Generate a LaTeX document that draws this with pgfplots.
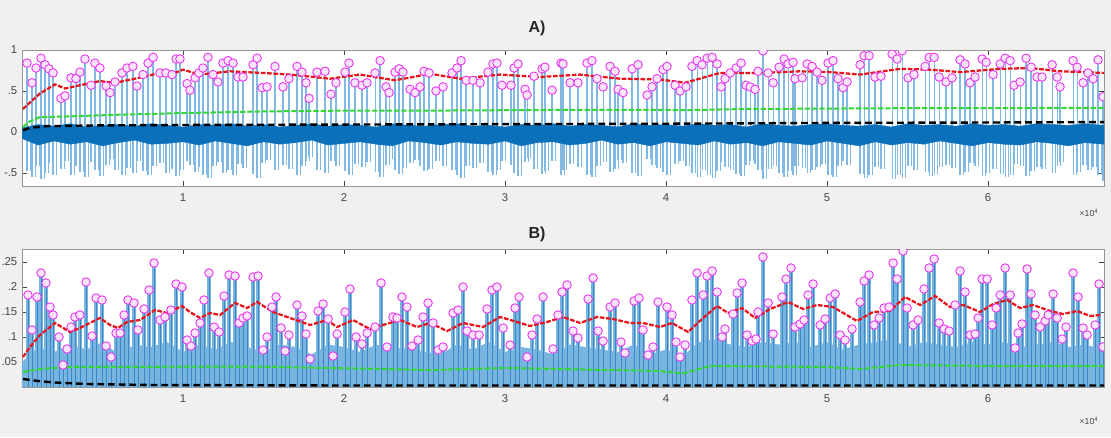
\documentclass[border=0pt]{standalone}
\usepackage{fontspec}
\setmainfont{Liberation Sans}
\usepackage{pgfplots}
\usepackage{pgfplotstable}
\pgfplotsset{compat=1.18}

\definecolor{figbg}{RGB}{240,240,240}
\definecolor{frame}{RGB}{150,150,150}
\definecolor{ticktext}{RGB}{70,70,70}
\definecolor{sigdark}{RGB}{10,112,186}
\definecolor{siglight}{RGB}{130,185,226}
\definecolor{stemfill}{RGB}{120,180,224}
\definecolor{stemedge}{RGB}{60,135,198}
\definecolor{peakmag}{RGB}{232,50,238}
\definecolor{peakfill}{RGB}{250,228,252}
\definecolor{envred}{RGB}{232,22,28}
\definecolor{envgreen}{RGB}{50,215,50}

% A) peaks of the signal (x in 10^4 samples), positive peak, negative swing
\pgfplotstableread{
x p n
0.031 0.84 -0.48
0.062 0.60 -0.55
0.087 0.78 -0.42
0.118 0.90 -0.57
0.143 0.82 -0.50
0.168 0.77 -0.38
0.193 0.72 -0.53
0.242 0.41 -0.45
0.267 0.44 -0.36
0.304 0.66 -0.52
0.335 0.65 -0.41
0.360 0.73 -0.49
0.391 0.89 -0.55
0.429 0.57 -0.37
0.453 0.84 -0.47
0.484 0.78 -0.54
0.522 0.56 -0.40
0.547 0.48 -0.33
0.578 0.61 -0.46
0.621 0.72 -0.52
0.652 0.78 -0.44
0.689 0.80 -0.50
0.714 0.56 -0.36
0.752 0.70 -0.48
0.783 0.84 -0.53
0.814 0.91 -0.42
0.857 0.72 -0.38
0.894 0.72 -0.50
0.932 0.70 -0.45
0.957 0.89 -0.54
0.981 0.89 -0.47
1.025 0.59 -0.35
1.043 0.51 -0.40
1.075 0.66 -0.49
1.099 0.72 -0.43
1.124 0.78 -0.52
1.155 0.91 -0.56
1.186 0.70 -0.41
1.217 0.61 -0.37
1.248 0.84 -0.50
1.280 0.87 -0.46
1.311 0.84 -0.53
1.342 0.67 -0.39
1.373 0.67 -0.44
1.435 0.82 -0.51
1.460 0.90 -0.56
1.491 0.54 -0.38
1.522 0.55 -0.34
1.571 0.80 -0.47
1.621 0.55 -0.40
1.658 0.65 -0.45
1.708 0.80 -0.52
1.739 0.73 -0.42
1.764 0.60 -0.36
1.783 0.41 -0.31
1.832 0.73 -0.46
1.882 0.74 -0.50
1.919 0.46 -0.35
1.950 0.60 -0.41
2.006 0.73 -0.48
2.031 0.84 -0.53
2.068 0.60 -0.39
2.112 0.57 -0.43
2.143 0.60 -0.37
2.193 0.72 -0.49
2.224 0.87 -0.55
2.261 0.55 -0.40
2.280 0.48 -0.33
2.317 0.73 -0.46
2.342 0.77 -0.51
2.366 0.73 -0.44
2.410 0.52 -0.38
2.441 0.48 -0.34
2.472 0.55 -0.41
2.497 0.74 -0.48
2.528 0.72 -0.45
2.571 0.50 -0.36
2.615 0.55 -0.42
2.671 0.72 -0.47
2.702 0.78 -0.52
2.727 0.87 -0.56
2.758 0.63 -0.41
2.801 0.63 -0.44
2.845 0.60 -0.38
2.894 0.73 -0.49
2.925 0.83 -0.53
2.950 0.84 -0.47
2.981 0.57 -0.36
3.037 0.57 -0.40
3.056 0.78 -0.50
3.081 0.83 -0.54
3.124 0.52 -0.37
3.137 0.45 -0.32
3.180 0.68 -0.45
3.230 0.77 -0.51
3.248 0.79 -0.48
3.292 0.51 -0.35
3.348 0.84 -0.53
3.360 0.83 -0.46
3.404 0.60 -0.39
3.453 0.60 -0.43
3.509 0.84 -0.52
3.540 0.87 -0.55
3.571 0.65 -0.41
3.609 0.55 -0.37
3.652 0.80 -0.49
3.683 0.74 -0.45
3.702 0.52 -0.34
3.733 0.48 -0.38
3.789 0.77 -0.50
3.826 0.82 -0.54
3.882 0.45 -0.33
3.913 0.55 -0.40
3.944 0.65 -0.44
3.981 0.76 -0.49
4.006 0.80 -0.52
4.056 0.57 -0.39
4.087 0.50 -0.35
4.124 0.55 -0.42
4.161 0.80 -0.50
4.193 0.87 -0.55
4.224 0.82 -0.47
4.255 0.90 -0.53
4.286 0.91 -0.56
4.317 0.83 -0.48
4.342 0.55 -0.37
4.366 0.65 -0.43
4.398 0.72 -0.46
4.435 0.78 -0.51
4.466 0.84 -0.54
4.497 0.57 -0.40
4.522 0.55 -0.36
4.553 0.52 -0.39
4.571 0.74 -0.47
4.602 0.99 -0.58
4.634 0.72 -0.45
4.665 0.60 -0.41
4.702 0.79 -0.50
4.733 0.89 -0.55
4.758 0.83 -0.48
4.789 0.85 -0.52
4.801 0.65 -0.42
4.845 0.66 -0.44
4.876 0.83 -0.50
4.907 0.80 -0.47
4.938 0.73 -0.43
4.969 0.63 -0.39
5.006 0.84 -0.52
5.037 0.87 -0.55
5.068 0.65 -0.42
5.099 0.54 -0.36
5.124 0.61 -0.40
5.205 0.82 -0.51
5.230 0.93 -0.56
5.261 0.93 -0.53
5.298 0.67 -0.43
5.335 0.68 -0.45
5.404 0.95 -0.57
5.435 0.89 -0.52
5.466 0.99 -0.56
5.503 0.66 -0.42
5.540 0.70 -0.46
5.609 0.80 -0.49
5.634 0.91 -0.54
5.665 0.91 -0.51
5.696 0.67 -0.43
5.739 0.61 -0.40
5.776 0.66 -0.44
5.826 0.88 -0.53
5.857 0.83 -0.49
5.888 0.60 -0.38
5.919 0.67 -0.42
5.963 0.89 -0.54
5.988 0.85 -0.50
6.031 0.70 -0.45
6.075 0.83 -0.51
6.106 0.90 -0.55
6.137 0.87 -0.52
6.161 0.57 -0.39
6.199 0.61 -0.41
6.236 0.90 -0.54
6.267 0.79 -0.48
6.304 0.67 -0.43
6.335 0.67 -0.45
6.398 0.82 -0.50
6.429 0.67 -0.42
6.447 0.55 -0.37
6.528 0.87 -0.53
6.553 0.79 -0.49
6.590 0.60 -0.40
6.621 0.72 -0.46
6.652 0.65 -0.43
6.683 0.88 -0.52
6.714 0.43 -0.60
}\peaksA

% B) peaks of the envelope
\pgfplotstableread{
x p
0.037 0.184
0.062 0.114
0.093 0.180
0.118 0.228
0.149 0.208
0.174 0.160
0.193 0.144
0.230 0.100
0.255 0.044
0.280 0.076
0.304 0.120
0.329 0.140
0.360 0.144
0.398 0.210
0.435 0.102
0.460 0.178
0.497 0.174
0.522 0.082
0.553 0.060
0.584 0.108
0.609 0.108
0.634 0.144
0.658 0.174
0.696 0.168
0.720 0.114
0.758 0.156
0.789 0.194
0.820 0.248
0.857 0.134
0.888 0.140
0.925 0.154
0.957 0.206
0.994 0.200
1.025 0.094
1.050 0.082
1.075 0.108
1.106 0.128
1.130 0.174
1.161 0.228
1.193 0.120
1.224 0.110
1.255 0.182
1.286 0.224
1.323 0.222
1.348 0.128
1.373 0.138
1.398 0.142
1.435 0.220
1.466 0.222
1.497 0.074
1.522 0.100
1.553 0.160
1.578 0.180
1.609 0.118
1.634 0.072
1.658 0.104
1.708 0.164
1.739 0.142
1.764 0.106
1.789 0.056
1.839 0.152
1.870 0.166
1.901 0.136
1.932 0.062
1.957 0.106
2.006 0.150
2.037 0.196
2.075 0.100
2.112 0.086
2.143 0.108
2.193 0.120
2.230 0.208
2.267 0.080
2.304 0.140
2.329 0.138
2.360 0.180
2.391 0.160
2.422 0.082
2.460 0.094
2.491 0.140
2.522 0.168
2.553 0.128
2.584 0.074
2.615 0.080
2.677 0.148
2.708 0.154
2.739 0.200
2.764 0.112
2.801 0.104
2.839 0.104
2.888 0.156
2.919 0.194
2.950 0.200
2.988 0.118
3.031 0.084
3.062 0.158
3.087 0.180
3.137 0.060
3.168 0.104
3.199 0.136
3.236 0.180
3.298 0.076
3.329 0.144
3.354 0.190
3.385 0.204
3.422 0.112
3.453 0.098
3.516 0.176
3.547 0.218
3.578 0.112
3.609 0.092
3.652 0.160
3.683 0.168
3.720 0.090
3.745 0.068
3.801 0.172
3.832 0.178
3.857 0.114
3.888 0.064
3.919 0.080
3.950 0.170
4.006 0.160
4.037 0.144
4.062 0.090
4.087 0.060
4.118 0.084
4.161 0.174
4.193 0.228
4.230 0.184
4.255 0.222
4.286 0.232
4.317 0.190
4.348 0.100
4.366 0.116
4.416 0.146
4.441 0.188
4.472 0.208
4.503 0.104
4.534 0.092
4.559 0.096
4.571 0.150
4.602 0.260
4.634 0.168
4.665 0.106
4.720 0.180
4.745 0.216
4.776 0.238
4.801 0.120
4.832 0.126
4.857 0.134
4.882 0.184
4.913 0.206
4.957 0.124
4.988 0.136
5.019 0.178
5.050 0.186
5.081 0.104
5.112 0.094
5.155 0.116
5.205 0.170
5.230 0.212
5.261 0.224
5.292 0.124
5.323 0.138
5.354 0.158
5.385 0.160
5.410 0.248
5.435 0.216
5.472 0.272
5.497 0.158
5.534 0.124
5.565 0.134
5.602 0.196
5.634 0.238
5.665 0.256
5.696 0.128
5.727 0.116
5.758 0.112
5.795 0.164
5.826 0.232
5.857 0.190
5.888 0.104
5.919 0.106
5.938 0.138
5.963 0.216
5.994 0.216
6.025 0.124
6.050 0.158
6.075 0.184
6.106 0.238
6.137 0.184
6.168 0.078
6.186 0.108
6.211 0.126
6.242 0.236
6.267 0.186
6.292 0.144
6.323 0.120
6.354 0.132
6.373 0.144
6.404 0.186
6.429 0.138
6.460 0.096
6.484 0.120
6.528 0.228
6.559 0.180
6.590 0.118
6.615 0.104
6.665 0.124
6.689 0.206
6.714 0.080
}\peaksB

\pgfplotsset{
  sigaxis/.style={
    scale only axis, width=811.5pt, xmin=0, xmax=6.72,
    axis background/.style={fill=white},
    axis line style={frame, line width=0.7pt},
    tick style={ticktext, line width=0.5pt},
    major tick length=3.5pt,
    tick align=inside,
    xtick={1,2,3,4,5,6},
    tick label style={font=\fontsize{8.5}{9}\selectfont, text=ticktext},
    xticklabel style={yshift=-2.5pt},
    /pgf/number format/assume math mode=true,
    clip marker paths=true,
  },
  peakmarks/.style={only marks, mark=*, mark size=3.2pt,
    mark options={draw=peakmag, fill=peakfill, line width=0.65pt}},
  redenv/.style={envred, line width=1.7pt, dash pattern=on 3.5pt off 1.2pt},
  greenenv/.style={envgreen, line width=1.5pt, dash pattern=on 4pt off 1.5pt},
  blackenv/.style={black, line width=1.8pt, dash pattern=on 5pt off 3pt},
}

\begin{document}
\begin{tikzpicture}[x=1pt,y=1pt]
\fill[figbg] (0,0) rectangle (833.25,327.75);
\useasboundingbox (0,0) rectangle (833.25,327.75);

% ---------------- A) ----------------
\begin{axis}[sigaxis, at={(16.5pt,188.25pt)}, anchor=south west, height=102pt,
  ymin=-0.66, ymax=1, ytick={-0.5,0,0.5,1}, yticklabels={-.5,0,.5,1}]
\addplot[ycomb, siglight, line width=0.9pt] table[x=x,y=p]{\peaksA};
\addplot[ycomb, siglight, line width=0.9pt] table[x=x,y=n]{\peaksA};
\addplot[ycomb, siglight, line width=0.9pt, xshift=2.6pt] table[x=x,y=n]{\peaksA};
\addplot[fill=sigdark, draw=sigdark, line width=0.3pt] coordinates {
(0,0.05)(0.1,0.09)(0.2,0.07)(0.3,0.10)(0.4,0.06)(0.5,0.08)(0.6,0.09)(0.7,0.07)(0.8,0.10)(0.9,0.08)
(1.0,0.06)(1.1,0.09)(1.2,0.08)(1.3,0.10)(1.4,0.07)(1.5,0.09)(1.6,0.06)(1.7,0.08)(1.8,0.10)(1.9,0.07)
(2.0,0.09)(2.1,0.08)(2.2,0.06)(2.3,0.10)(2.4,0.08)(2.5,0.07)(2.6,0.09)(2.7,0.10)(2.8,0.07)(2.9,0.08)
(3.0,0.06)(3.1,0.09)(3.2,0.08)(3.3,0.10)(3.4,0.07)(3.5,0.09)(3.6,0.08)(3.7,0.06)(3.8,0.10)(3.9,0.08)
(4.0,0.09)(4.1,0.07)(4.2,0.10)(4.3,0.08)(4.4,0.09)(4.5,0.06)(4.6,0.10)(4.7,0.08)(4.8,0.07)(4.9,0.09)
(5.0,0.10)(5.1,0.08)(5.2,0.07)(5.3,0.09)(5.4,0.06)(5.5,0.10)(5.6,0.08)(5.7,0.09)(5.8,0.07)(5.9,0.10)
(6.0,0.08)(6.1,0.09)(6.2,0.07)(6.3,0.10)(6.4,0.09)(6.5,0.08)(6.6,0.10)(6.72,0.08)
(6.72,-0.15)(6.6,-0.13)(6.5,-0.17)(6.4,-0.14)(6.3,-0.12)(6.2,-0.16)(6.1,-0.15)(6.0,-0.13)
(5.9,-0.17)(5.8,-0.14)(5.7,-0.11)(5.6,-0.15)(5.5,-0.13)(5.4,-0.16)(5.3,-0.12)(5.2,-0.17)(5.1,-0.14)(5.0,-0.11)
(4.9,-0.16)(4.8,-0.14)(4.7,-0.12)(4.6,-0.17)(4.5,-0.13)(4.4,-0.15)(4.3,-0.11)(4.2,-0.16)(4.1,-0.14)(4.0,-0.12)
(3.9,-0.17)(3.8,-0.13)(3.7,-0.15)(3.6,-0.10)(3.5,-0.14)(3.4,-0.16)(3.3,-0.12)(3.2,-0.13)(3.1,-0.17)(3.0,-0.11)
(2.9,-0.15)(2.8,-0.14)(2.7,-0.12)(2.6,-0.16)(2.5,-0.13)(2.4,-0.11)(2.3,-0.17)(2.2,-0.15)(2.1,-0.12)(2.0,-0.14)
(1.9,-0.16)(1.8,-0.10)(1.7,-0.13)(1.6,-0.15)(1.5,-0.12)(1.4,-0.17)(1.3,-0.14)(1.2,-0.11)(1.1,-0.16)(1.0,-0.12)
(0.9,-0.14)(0.8,-0.15)(0.7,-0.10)(0.6,-0.13)(0.5,-0.17)(0.4,-0.12)(0.3,-0.15)(0.2,-0.11)(0.1,-0.16)(0,-0.08)
} -- cycle;
\addplot[greenenv] coordinates {(0.006,0.06)(0.05,0.13)(0.11,0.18)(0.3,0.19)(0.6,0.21)(1.0,0.23)(1.5,0.25)
  (2.0,0.26)(2.5,0.26)(3.0,0.265)(3.5,0.27)(4.0,0.27)(4.1,0.265)(4.5,0.28)(5.0,0.285)(5.5,0.29)(6.0,0.29)(6.72,0.295)};
\addplot[blackenv] coordinates {(0.006,0.02)(0.05,0.05)(0.15,0.07)(0.5,0.08)(1.0,0.085)(2.0,0.09)(3.0,0.095)
  (4.0,0.10)(5.0,0.11)(6.0,0.115)(6.72,0.12)};
\addplot[redenv] coordinates {(0.006,0.28)(0.050,0.36)(0.112,0.47)(0.205,0.58)(0.267,0.53)(0.360,0.57)
  (0.484,0.62)(0.578,0.60)(0.702,0.65)(0.857,0.72)(0.950,0.72)(1.0,0.76)(1.106,0.70)(1.292,0.74)
  (1.491,0.72)(1.665,0.70)(1.913,0.65)(2.099,0.70)(2.317,0.63)(2.534,0.71)(2.720,0.65)(2.969,0.70)
  (3.217,0.67)(3.466,0.70)(3.714,0.65)(3.963,0.64)(4.118,0.60)(4.335,0.72)(4.584,0.72)(4.832,0.74)
  (5.019,0.73)(5.205,0.70)(5.453,0.77)(5.640,0.76)(5.826,0.73)(6.075,0.77)(6.261,0.78)(6.447,0.74)(6.72,0.72)};
\addplot[peakmarks] table[x=x,y=p]{\peaksA};
\end{axis}

% ---------------- B) ----------------
\begin{axis}[sigaxis, at={(16.5pt,37.5pt)}, anchor=south west, height=103.5pt,
  ymin=0, ymax=0.276, ytick={0.05,0.1,0.15,0.2,0.25}, yticklabels={.05,.1,.15,.2,.25}]
\addplot[fill=stemfill, draw=none] coordinates {
(0,0.05)(0.1,0.08)(0.2,0.07)(0.3,0.085)(0.4,0.075)(0.5,0.09)(0.6,0.065)(0.7,0.085)(0.8,0.08)(0.9,0.09)
(1.0,0.07)(1.1,0.085)(1.2,0.075)(1.3,0.09)(1.4,0.08)(1.5,0.07)(1.6,0.085)(1.7,0.08)(1.8,0.065)(1.9,0.085)
(2.0,0.08)(2.1,0.07)(2.2,0.085)(2.3,0.075)(2.4,0.08)(2.5,0.07)(2.6,0.065)(2.7,0.085)(2.8,0.075)(2.9,0.09)
(3.0,0.07)(3.1,0.08)(3.2,0.075)(3.3,0.065)(3.4,0.085)(3.5,0.08)(3.6,0.075)(3.7,0.07)(3.8,0.085)(3.9,0.065)
(4.0,0.075)(4.1,0.06)(4.2,0.09)(4.3,0.095)(4.4,0.085)(4.5,0.08)(4.6,0.09)(4.7,0.085)(4.8,0.09)(4.9,0.08)
(5.0,0.09)(5.1,0.075)(5.2,0.085)(5.3,0.09)(5.4,0.095)(5.5,0.08)(5.6,0.09)(5.7,0.085)(5.8,0.08)(5.9,0.09)
(6.0,0.085)(6.1,0.09)(6.2,0.08)(6.3,0.085)(6.4,0.09)(6.5,0.08)(6.6,0.085)(6.72,0.075)} \closedcycle;
\addplot[ycomb, stemfill, line width=2.6pt] table[x=x,y=p]{\peaksB};
\addplot[ycomb, stemedge, line width=0.45pt] table[x=x,y=p]{\peaksB};
\addplot[greenenv] coordinates {(0.006,0.030)(0.112,0.036)(0.280,0.040)(1.416,0.041)(1.913,0.038)
  (2.534,0.034)(3.012,0.038)(3.963,0.032)(4.106,0.027)(4.273,0.042)(5.0,0.040)(5.205,0.036)
  (5.453,0.044)(6.031,0.042)(6.72,0.042)};
\addplot[blackenv] coordinates {(0.006,0.016)(0.1,0.012)(0.2,0.009)(0.4,0.006)(0.8,0.004)(2.0,0.003)
  (4.0,0.003)(6.72,0.003)};
\addplot[redenv] coordinates {(0.006,0.060)(0.050,0.080)(0.112,0.104)(0.205,0.128)(0.236,0.122)
  (0.298,0.110)(0.360,0.118)(0.422,0.128)(0.484,0.138)(0.547,0.124)(0.596,0.118)(0.652,0.130)
  (0.733,0.134)(0.826,0.154)(0.901,0.148)(0.994,0.162)(1.043,0.150)(1.106,0.138)(1.168,0.148)
  (1.230,0.144)(1.323,0.168)(1.398,0.158)(1.460,0.170)(1.559,0.150)(1.665,0.138)(1.789,0.124)
  (1.894,0.134)(1.957,0.120)(2.056,0.134)(2.161,0.116)(2.242,0.124)(2.348,0.134)(2.453,0.120)
  (2.534,0.128)(2.640,0.112)(2.739,0.128)(2.863,0.120)(2.969,0.140)(3.075,0.130)(3.155,0.122)
  (3.261,0.130)(3.360,0.140)(3.466,0.128)(3.571,0.140)(3.671,0.136)(3.776,0.128)(3.857,0.128)
  (3.963,0.120)(4.037,0.128)(4.137,0.110)(4.230,0.138)(4.317,0.162)(4.385,0.148)(4.472,0.158)
  (4.553,0.138)(4.646,0.156)(4.758,0.170)(4.851,0.156)(4.938,0.164)(5.037,0.160)(5.186,0.132)
  (5.286,0.150)(5.391,0.152)(5.484,0.180)(5.578,0.164)(5.671,0.182)(5.764,0.160)(5.845,0.164)
  (5.950,0.150)(6.031,0.166)(6.118,0.174)(6.199,0.158)(6.280,0.164)(6.385,0.152)(6.466,0.146)
  (6.553,0.152)(6.634,0.142)(6.696,0.144)};
\addplot[peakmarks] table[x=x,y=p]{\peaksB};
\end{axis}

% titles and exponent labels
\node[font=\fontsize{12}{14}\selectfont\bfseries, text=black!85] at (402.75,306.4) {A)};
\node[font=\fontsize{12}{14}\selectfont\bfseries, text=black!85] at (402.75,152.25) {B)};
\node[font=\fontsize{6.5}{7}\selectfont, text=ticktext] at (816.75,168) {×10\textsuperscript{4}};
\node[font=\fontsize{6.5}{7}\selectfont, text=ticktext] at (816.75,12) {×10\textsuperscript{4}};
\end{tikzpicture}
\end{document}
